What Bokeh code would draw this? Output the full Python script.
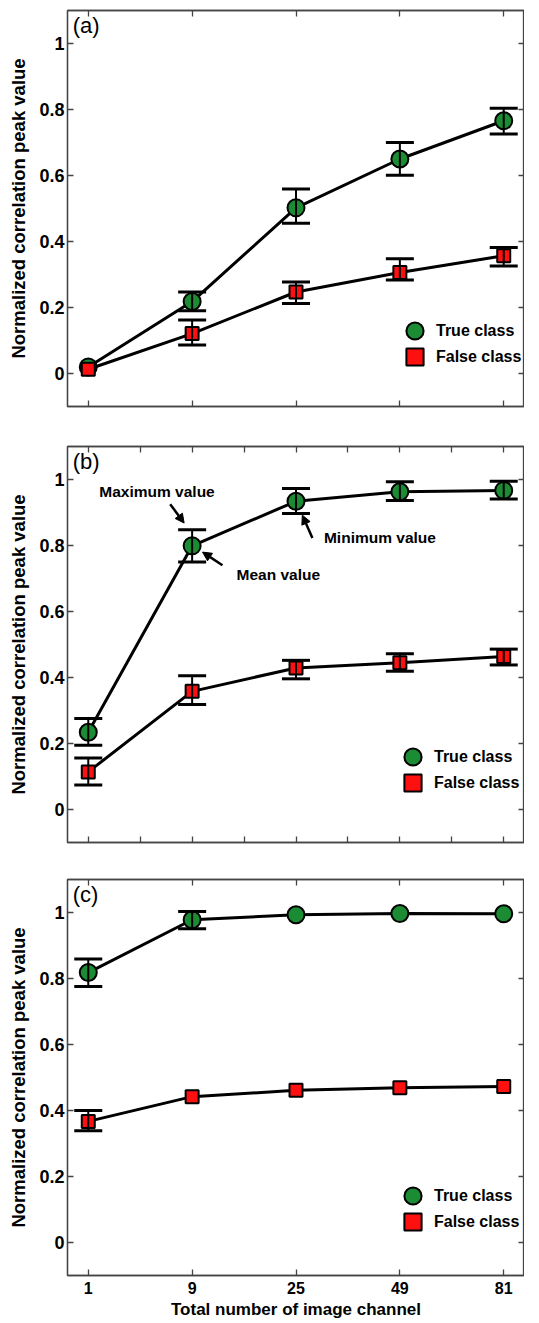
from bokeh.plotting import figure
from bokeh.models import (LinearAxis, FixedTicker, NumeralTickFormatter, CustomJSTickFormatter,
                          CustomLabelingPolicy, Range1d, Whisker, TeeHead, ColumnDataSource,
                          Legend, LegendItem, Label, Arrow, NormalHead)
from bokeh.layouts import column
from bokeh.embed import file_html
from bokeh.resources import INLINE

# ---------------- data ----------------
channels = ["1", "9", "25", "49", "81"]
yticks = [0, 0.2, 0.4, 0.6, 0.8, 1]

# panel (a)
a_true = [0.020, 0.218, 0.502, 0.650, 0.766]
a_true_lo = [None, 0.190, 0.455, 0.601, 0.726]
a_true_hi = [None, 0.247, 0.559, 0.700, 0.804]
a_false = [0.013, 0.121, 0.247, 0.306, 0.357]
a_false_lo = [None, 0.086, 0.212, 0.283, 0.326]
a_false_hi = [None, 0.162, 0.277, 0.348, 0.382]

# panel (b)
b_true = [0.234, 0.799, 0.934, 0.963, 0.967]
b_true_lo = [0.195, 0.750, 0.897, 0.936, 0.941]
b_true_hi = [0.276, 0.848, 0.973, 0.993, 0.995]
b_false = [0.114, 0.358, 0.429, 0.445, 0.464]
b_false_lo = [0.074, 0.318, 0.396, 0.419, 0.438]
b_false_hi = [0.156, 0.405, 0.452, 0.472, 0.486]

# panel (c)
c_true = [0.818, 0.978, 0.993, 0.997, 0.996]
c_true_lo = [0.776, 0.951, None, None, None]
c_true_hi = [0.859, 1.003, None, None, None]
c_false = [0.367, 0.442, 0.461, 0.469, 0.473]
c_false_lo = [0.339, None, None, None, None]
c_false_hi = [0.400, None, None, None, None]

legend_labels = ["True class", "False class"]
y_title = "Normalized correlation peak value"
x_title = "Total number of image channel"

# ---------------- style ----------------
GREEN = "#1c8c34"
RED = "#ff1010"
FRAME = "#444444"
FONT = "Liberation Sans"

HIDE_CODE = """
const out = [];
for (const i of indices) out.push(i);
for (const i of out) indices.unset(i);
return indices;
"""


def style_axis(ax, show_labels):
    ax.major_tick_in = 6
    ax.major_tick_out = 0
    ax.minor_tick_in = 6
    ax.minor_tick_out = 0
    ax.axis_line_color = FRAME
    ax.axis_line_width = 1.3
    ax.major_tick_line_color = FRAME
    ax.major_tick_line_width = 1.3
    ax.minor_tick_line_color = FRAME
    ax.minor_tick_line_width = 1.3
    ax.major_label_text_font = FONT
    ax.major_label_text_font_style = "bold"
    ax.major_label_text_color = "black"
    ax.axis_label_text_font = FONT
    ax.axis_label_text_font_style = "bold"
    ax.axis_label_text_color = "black"
    if not show_labels:
        ax.formatter = CustomJSTickFormatter(code="return '';")
        ax.major_label_policy = CustomLabelingPolicy(code=HIDE_CODE)
        ax.major_label_text_font_size = "1px"
        ax.major_label_standoff = 0


def add_err(p, lo, hi):
    xs = [i for i, v in enumerate(lo) if v is not None]
    src = ColumnDataSource(dict(base=xs, lower=[lo[i] for i in xs], upper=[hi[i] for i in xs]))
    w = Whisker(source=src, base="base", lower="lower", upper="upper",
                line_color="black", line_width=2, level="annotation",
                upper_head=TeeHead(size=28, line_width=3, line_color="black"),
                lower_head=TeeHead(size=28, line_width=3, line_color="black"))
    p.add_layout(w)


def make_legend(renderer, label, loc):
    return Legend(items=[LegendItem(label=label, renderers=[renderer])],
                  location=loc, glyph_width=43, glyph_height=43,
                  label_standoff=-4, padding=0, margin=0, spacing=0,
                  border_line_alpha=0, background_fill_alpha=0,
                  label_text_font=FONT, label_text_font_size="16px",
                  label_text_font_style="bold", label_text_color="black")


def panel(tag, t, tlo, thi, f, flo, fhi, leg_x, leg_y, top, bottom, show_x, half_ticks):
    x = list(range(len(channels)))
    p = figure(frame_width=457, frame_height=396,
               x_range=Range1d(-0.2, 4.2), y_range=Range1d(-0.1, 1.1),
               output_backend="svg", toolbar_location=None,
               x_axis_location=None, y_axis_location=None,
               min_border_left=67, min_border_right=0,
               min_border_top=top, min_border_bottom=bottom)
    p.xgrid.visible = False
    p.ygrid.visible = False
    p.outline_line_color = FRAME
    p.outline_line_width = 1.3
    p.background_fill_color = "white"
    p.border_fill_color = "white"

    minor = [i + 0.5 for i in x[:-1]] if half_ticks else []
    fmt_x = CustomJSTickFormatter(args=dict(labels=channels),
                                  code="const i = Math.round(tick); return labels[i] || '';")

    # bottom axis
    xb = LinearAxis(ticker=FixedTicker(ticks=x, minor_ticks=minor), formatter=fmt_x)
    style_axis(xb, show_x)
    if show_x:
        xb.axis_label = x_title
        xb.axis_label_text_font_size = "17px"
        xb.major_label_text_font_size = "16px"
        xb.major_label_standoff = 6
        xb.axis_label_standoff = 3
    p.add_layout(xb, "below")

    # top axis
    xa = LinearAxis(ticker=FixedTicker(ticks=x, minor_ticks=minor))
    style_axis(xa, False)
    p.add_layout(xa, "above")

    # left axis
    yl = LinearAxis(ticker=FixedTicker(ticks=yticks, minor_ticks=[]),
                    formatter=NumeralTickFormatter(format="0.[0]"))
    style_axis(yl, True)
    yl.axis_label = y_title
    yl.axis_label_text_font_size = "18.5px"
    yl.major_label_text_font_size = "18px"
    yl.major_label_standoff = 3
    yl.axis_label_standoff = 7
    p.add_layout(yl, "left")

    # right axis
    yr = LinearAxis(ticker=FixedTicker(ticks=yticks, minor_ticks=[]))
    style_axis(yr, False)
    p.add_layout(yr, "right")

    # series
    p.line(x, t, line_color="black", line_width=3)
    p.line(x, f, line_color="black", line_width=3)
    rt = p.scatter(x, t, marker="circle", size=17, fill_color=GREEN,
                   line_color="black", line_width=2)
    rf = p.scatter(x, f, marker="square", size=13, fill_color=RED,
                   line_color="black", line_width=2)
    add_err(p, tlo, thi)
    add_err(p, flo, fhi)

    # panel tag
    p.add_layout(Label(x=-0.15, y=1.055, text=tag, text_font=FONT, text_font_size="22px",
                       text_baseline="middle", text_align="left", text_color="black"))

    p.add_layout(make_legend(rt, legend_labels[0], (leg_x, leg_y[0])))
    p.add_layout(make_legend(rf, legend_labels[1], (leg_x, leg_y[1])))
    return p


pa = panel("(a)", a_true, a_true_lo, a_true_hi, a_false, a_false_lo, a_false_hi,
           326, (54, 28), 10, 20, False, False)
pb = panel("(b)", b_true, b_true_lo, b_true_hi, b_false, b_false_lo, b_false_hi,
           324, (64, 38), 20, 18, False, True)
pc = panel("(c)", c_true, c_true_lo, c_true_hi, c_false, c_false_lo, c_false_hi,
           324, (58, 32), 19, 10, True, False)

# annotations of panel (b)
notes = [("Maximum value", 0.106, 0.965), ("Mean value", 1.427, 0.712),
         ("Minimum value", 2.269, 0.824)]
for txt, nx, ny in notes:
    pb.add_layout(Label(x=nx, y=ny, text=txt, text_font=FONT, text_font_size="15.5px",
                        text_font_style="bold", text_baseline="middle", text_align="left",
                        text_color="black"))
arrows = [(0.789, 0.925, 0.923, 0.868), (1.292, 0.740, 1.100, 0.780),
          (2.158, 0.823, 2.061, 0.892)]
for xs, ys, xe, ye in arrows:
    pb.add_layout(Arrow(x_start=xs, y_start=ys, x_end=xe, y_end=ye, line_width=2.5,
                        line_color="black",
                        end=NormalHead(size=9, fill_color="black", line_color="black")))

layout = column(pa, pb, pc, spacing=0)
open("out.html", "w").write(file_html(layout, INLINE))
